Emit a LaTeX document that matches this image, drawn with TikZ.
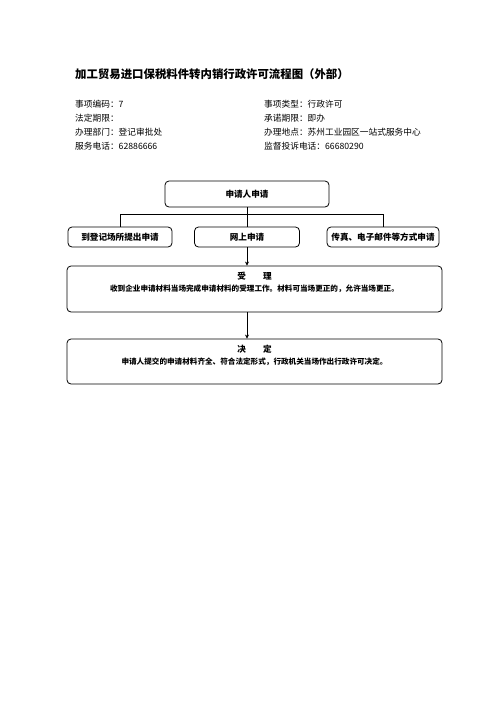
\documentclass[tikz,border=0pt]{standalone}
\usepackage{fontspec}
\usepackage{tikz}
\usetikzlibrary{arrows.meta,positioning,calc}
\newfontfamily\cjk{Noto Sans CJK SC}
\tikzset{
  flowbox/.style={
    draw, rounded corners=4pt, line width=0.8pt, align=center,
    inner sep=0pt, font=\cjk\fontsize{8.6}{10}\selectfont\bfseries
  },
  stagebox/.style={flowbox, minimum width=375pt, minimum height=46pt},
  stagetext/.style={font=\cjk\fontsize{7.6}{12}\selectfont\bfseries, align=center, inner sep=0pt},
  infotext/.style={font=\cjk\fontsize{8.7}{10}\selectfont, anchor=west, inner sep=0pt},
  link/.style={line width=0.8pt},
  flow/.style={link, -{Stealth[length=4pt, width=4pt]}}
}
\begin{document}
\begin{tikzpicture}[x=1pt, y=-1pt]
  \useasboundingbox[fill=white] (0,0) rectangle (496,702);
  % title and info
  \node[font=\cjk\fontsize{11.4}{13}\selectfont\bfseries, anchor=west, inner sep=0pt] (title) at (75,74) {加工贸易进口保税料件转内销行政许可流程图（外部）};
  \node[infotext] (code) at (75,104) {事项编码：7};
  \node[infotext] (term) at (75,118) {法定期限：};
  \node[infotext] (dept) at (75,132) {办理部门：登记审批处};
  \node[infotext] (tel) at (75,146) {服务电话：62886666};
  \node[infotext] (kind) at (264,104) {事项类型：行政许可};
  \node[infotext] (promise) at (264,118) {承诺期限：即办};
  \node[infotext] (place) at (264,132) {办理地点：苏州工业园区一站式服务中心};
  \node[infotext] (super) at (264,146) {监督投诉电话：66680290};
  % flow
  \node[flowbox, minimum width=164pt, minimum height=26pt] (apply) at (247,194) {申请人申请};
  \node[flowbox, minimum width=104pt, minimum height=20pt] (office) at (120,237) {到登记场所提出申请};
  \node[flowbox, minimum width=105pt, minimum height=20pt] (online) at (247,237) {网上申请};
  \node[flowbox, minimum width=112pt, minimum height=20pt] (fax) at (383,237) {传真、电子邮件等方式申请};
  \node[stagebox] (accept) at (254.5,289) {};
  \node[stagetext, below=6pt of accept.north] (accepttext) {\fontsize{8.6}{12}\selectfont 受\quad\quad 理\\收到企业申请材料当场完成申请材料的受理工作。材料可当场更正的，允许当场更正。};
  \node[stagebox, minimum height=45pt] (decide) at (254.5,361.5) {};
  \node[stagetext, below=6pt of decide.north] (decidetext) {\fontsize{8.6}{12}\selectfont 决\quad\quad 定\\申请人提交的申请材料齐全、符合法定形式，行政机关当场作出行政许可决定。};
  \coordinate (split) at (apply.south |- 0,214);
  \draw[link] (apply.south) -- (split);
  \draw[link] (office.north) |- (fax.north |- split) -- (fax.north);
  \draw[link] (split) -- (online.north);
  \draw[flow] (online.south) -- (online.south |- accept.north);
  \draw[flow] (online.south |- accept.south) -- (online.south |- decide.north);
\end{tikzpicture}
\end{document}
